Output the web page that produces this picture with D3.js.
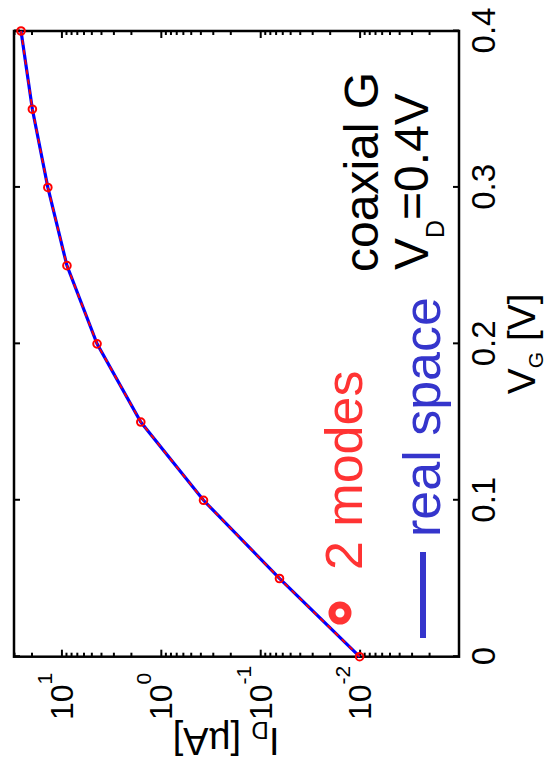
<!DOCTYPE html>
<html>
<head>
<meta charset="utf-8">
<script src="https://cdn.jsdelivr.net/npm/d3@7"></script>
<style>
  html, body { margin: 0; padding: 0; background: #fff; }
  svg { display: block; }
  text { font-family: "Liberation Sans", Arial, Helvetica, sans-serif; }
</style>
</head>
<body>
<script>
// ---- data ----
const vg = [0, 0.05, 0.1, 0.15, 0.2, 0.25, 0.3, 0.35, 0.4];
const idTwoModes = [0.01, 0.064, 0.372, 1.59, 4.38, 8.8, 13.7, 19.6, 25.5];
const idRealSpace = [0.01, 0.064, 0.372, 1.59, 4.38, 8.8, 13.7, 19.6, 25.5];
const xTickValues = [0, 0.1, 0.2, 0.3, 0.4];
const xTickLabels = ["0", "0.1", "0.2", "0.3", "0.4"];
const yTickValues = [1e-2, 1e-1, 1, 10];
const yTickExponents = ["-2", "-1", "0", "1"];
const seriesNames = ["2 modes", "real space"];

// ---- layout (chart drawn in its own frame, then turned 90 degrees) ----
const PW = 548, PH = 782;
const svg = d3.select("body").append("svg").attr("width", PW).attr("height", PH);
const g = svg.append("g").attr("transform", `translate(0,${PH}) rotate(-90)`);

const x = d3.scaleLinear().domain([0, 0.4]).range([125.3, 751]);
const y = d3.scaleLog().domain([1e-3, 30]).range([459, 14]);

const minors = [];
for (let e = -3; e <= 1; e++) for (let m = 2; m <= 9; m++) {
  const v = m * Math.pow(10, e);
  if (v <= 30) minors.push(v);
}

function styleAxis(sel) {
  sel.select(".domain").remove();
  sel.selectAll(".tick line").attr("stroke", "#000").attr("stroke-width", 2);
}

// x axis bottom (with labels) and top (mirror)
g.append("g").attr("transform", "translate(0,459)")
  .call(d3.axisBottom(x).tickValues(xTickValues).tickSize(-6).tickPadding(13)
    .tickFormat((d, i) => xTickLabels[i]))
  .call(styleAxis)
  .call(s => s.selectAll("text").attr("font-size", 33).attr("fill", "#000")
    .attr("font-family", "Liberation Sans, Arial, sans-serif"));
g.append("g").attr("transform", "translate(0,14)")
  .call(d3.axisTop(x).tickValues(xTickValues).tickSize(-6).tickFormat(""))
  .call(styleAxis);

// y axis left/right majors and minors
[[125.3, d3.axisLeft], [751, d3.axisRight]].forEach(([tx, fn]) => {
  g.append("g").attr("transform", `translate(${tx},0)`)
    .call(fn(y).tickValues(yTickValues).tickSize(-7).tickFormat(""))
    .call(styleAxis);
  g.append("g").attr("transform", `translate(${tx},0)`)
    .call(fn(y).tickValues(minors).tickSize(-4).tickFormat(""))
    .call(styleAxis);
});

// log tick labels 10^n
yTickValues.forEach((v, i) => {
  const t = g.append("text").attr("x", 62).attr("y", y(v) + 11.5)
    .attr("font-size", 32).attr("fill", "#000");
  t.append("tspan").text("10");
  t.append("tspan").attr("dy", -21).attr("font-size", 21).text(yTickExponents[i]);
});

// frame
g.append("rect").attr("x", x(0)).attr("y", y(30))
  .attr("width", x(0.4) - x(0)).attr("height", y(1e-3) - y(30))
  .attr("fill", "none").attr("stroke", "#000").attr("stroke-width", 2.5);

// axis labels
const xl = g.append("text").attr("x", (x(0) + x(0.4)) / 2).attr("y", 535)
  .attr("text-anchor", "middle").attr("font-size", 39).attr("fill", "#000");
xl.append("tspan").text("V");
xl.append("tspan").attr("dy", 8).attr("font-size", 21).text("G");
xl.append("tspan").attr("dy", -8).text(" [V]");

const yl = g.append("text")
  .attr("transform", `translate(54,226) rotate(-90)`)
  .attr("text-anchor", "middle").attr("font-size", 38).attr("fill", "#000");
yl.append("tspan").text("I");
yl.append("tspan").attr("dy", 6).attr("font-size", 24).text("D");
yl.append("tspan").attr("dy", -6).text(" [\u00B5A]");

// series
const ptsReal = vg.map((v, i) => [x(v), y(idRealSpace[i])]);
const ptsModes = vg.map((v, i) => [x(v), y(idTwoModes[i])]);
const line = d3.line();
g.append("path").attr("d", line(ptsReal)).attr("fill", "none")
  .attr("stroke", "#0000ff").attr("stroke-width", 3.2);
g.append("path").attr("d", line(ptsModes)).attr("fill", "none")
  .attr("stroke", "#ff0000").attr("stroke-width", 1.8).attr("stroke-dasharray", "5,5");
g.selectAll("circle.pt").data(ptsModes).join("circle").attr("class", "pt")
  .attr("cx", d => d[0]).attr("cy", d => d[1]).attr("r", 3.8)
  .attr("fill", "none").attr("stroke", "#ff0000").attr("stroke-width", 2);

// legend
g.append("circle").attr("cx", 169).attr("cy", 340).attr("r", 8)
  .attr("fill", "none").attr("stroke", "#ff3333").attr("stroke-width", 7);
g.append("text").attr("x", 212).attr("y", 362).attr("font-size", 52)
  .attr("fill", "#ff3333").text(seriesNames[0]);
g.append("line").attr("x1", 144).attr("x2", 230).attr("y1", 423).attr("y2", 423)
  .attr("stroke", "#3535cc").attr("stroke-width", 6);
g.append("text").attr("x", 245).attr("y", 440).attr("font-size", 52)
  .attr("fill", "#3535cc").text(seriesNames[1]);

// annotations
g.append("text").attr("x", 510).attr("y", 378).attr("font-size", 48)
  .attr("fill", "#000").text("coaxial G");
const vd = g.append("text").attr("x", 512).attr("y", 428).attr("font-size", 48).attr("fill", "#000");
vd.append("tspan").text("V");
vd.append("tspan").attr("dy", 16).attr("font-size", 25).text("D");
vd.append("tspan").attr("dy", -16).text("=0.4V");
</script>
</body>
</html>
